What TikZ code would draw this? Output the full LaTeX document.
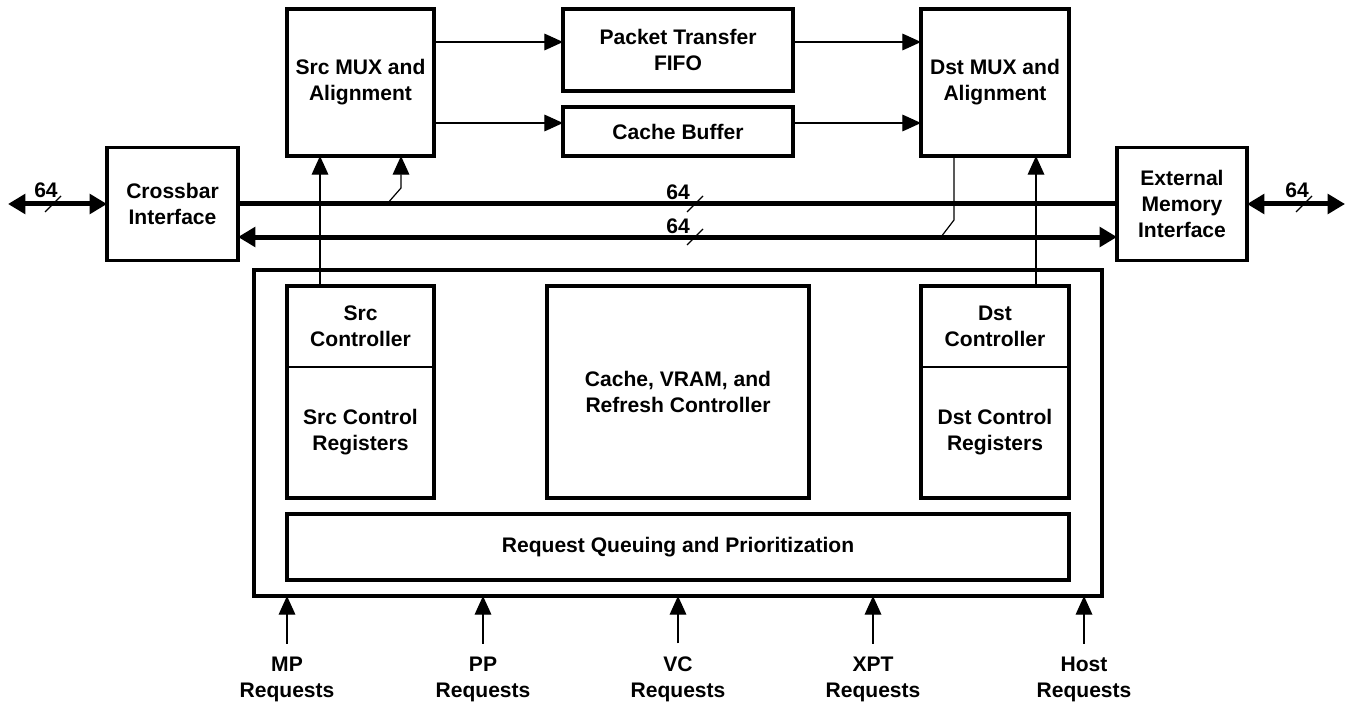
\documentclass[tikz,border=0pt]{standalone}
\usepackage{fontspec}
\setmainfont{Liberation Sans}
\usepackage{tikz}
\usetikzlibrary{positioning,arrows.meta,calc}
\newdimen\px \px=0.75pt

\begin{document}
\begin{tikzpicture}[
  x=0.75pt, y=-0.75pt,
  every node/.style={font=\fontsize{15.8}{19.5}\selectfont\bfseries, align=center,
                     inner sep=0pt, outer sep=0pt},
  block/.style={draw, line width=2.4pt},
  cell/.style={minimum width=147\px},
  wire/.style={line width=0.9pt},
  arr/.style={wire, -{Triangle[length=14pt,width=12.5pt]}},
  bus/.style={line width=3.75pt},
  busarr/.style={bus, {Triangle[length=13pt,width=14.5pt]}-{Triangle[length=13pt,width=14.5pt]}},
]
\useasboundingbox (0,0) rectangle (1353,706);

% datapath blocks
\node[block, minimum width=131\px, minimum height=113\px] (xbar)   at (172.5,204) {Crossbar\\Interface};
\node[block, minimum width=147\px, minimum height=147\px] (srcmux) at (360.5,82.5) {Src MUX and\\Alignment};
\node[block, minimum width=230\px, minimum height=82\px]  (fifo)   at (678,50)     {Packet Transfer\\FIFO};
\node[block, minimum width=230\px, minimum height=49\px]  (cbuf)   at (678,131.5)  {Cache Buffer};
\node[block, minimum width=148\px, minimum height=147\px] (dstmux) at (995,82.5)   {Dst MUX and\\Alignment};
\node[block, minimum width=130\px, minimum height=113\px] (extmem) at (1182,204)   {External\\Memory\\Interface};

% controller
\node[block, minimum width=848\px, minimum height=326\px] (core) at (678,433) {};
\node[cell, minimum height=81\px] (srcctl) at (360.5,326.5) {Src\\Controller};
\node[cell, minimum height=131\px, below=0pt of srcctl] (srcreg) {Src Control\\Registers};
\node[cell, minimum height=81\px, minimum width=148\px] (dstctl) at (995,326.5) {Dst\\Controller};
\node[cell, minimum height=131\px, minimum width=148\px, below=0pt of dstctl] (dstreg) {Dst Control\\Registers};
\draw[block] (srcctl.north west) rectangle (srcreg.south east);
\draw[wire] (srcctl.south west) -- (srcctl.south east);
\draw[block] (dstctl.north west) rectangle (dstreg.south east);
\draw[wire] (dstctl.south west) -- (dstctl.south east);
\node[block, minimum width=262\px, minimum height=212\px] (cvr) at (678,392) {Cache, VRAM, and\\Refresh Controller};
\node[block, minimum width=782\px, minimum height=66\px] (queue) at (678,547) {Request Queuing and Prioritization};

% request inputs
\foreach \n/\x/\t in {mp/287/MP, pp/483/PP, vc/678/VC, xpt/873/XPT, host/1084/Host}{
  \node (req\n) at (\x,679) {\t\\Requests};
  \draw[arr] ([yshift=13\px]req\n.north) -- (req\n.north |- core.south);
}

% fifo / buffer paths
\coordinate (rowA) at (0,42);
\coordinate (rowB) at (0,123);
\draw[arr] (srcmux.east |- rowA) -- (fifo.west |- rowA);
\draw[arr] (fifo.east |- rowA)   -- (dstmux.west |- rowA);
\draw[arr] (srcmux.east |- rowB) -- (cbuf.west |- rowB);
\draw[arr] (cbuf.east |- rowB)   -- (dstmux.west |- rowB);

% buses
\coordinate (xin)  at (8,204);
\coordinate (xout) at (1345,204);
\draw[busarr] (xin) -- (xbar.west);
\draw[busarr] (extmem.east) -- (xout);
\draw[bus] (xbar.east) -- (extmem.west);
\draw[busarr] ([yshift=-33\px]xbar.east) -- ([yshift=-33\px]extmem.west);

% taps and control lines
\coordinate (tapA) at (387,204);
\coordinate (tapB) at (941,237);
\draw[arr] (tapA) -- ++(14,-16) -- ([xshift=114\px]srcmux.south west);
\draw[wire] ([xshift=33\px]dstmux.south west) -- ++(0,64) -- (tapB);
\draw[arr] ([xshift=33\px]srcctl.north west) -- ([xshift=33\px]srcmux.south west);
\draw[arr] ([xshift=115\px]dstctl.north west) -- ([xshift=115\px]dstmux.south west);

% bus widths
\foreach \n/\x/\y/\s/\b in {l/46/190/53/204, u/678/192/695/204, d/678/226/695/237, r/1297/190/1304/204}{
  \node (w\n) at (\x,\y) {64};
  \draw[wire] (\s,\b) ++(-8,8) -- ++(16,-16);
}
\end{tikzpicture}
\end{document}
